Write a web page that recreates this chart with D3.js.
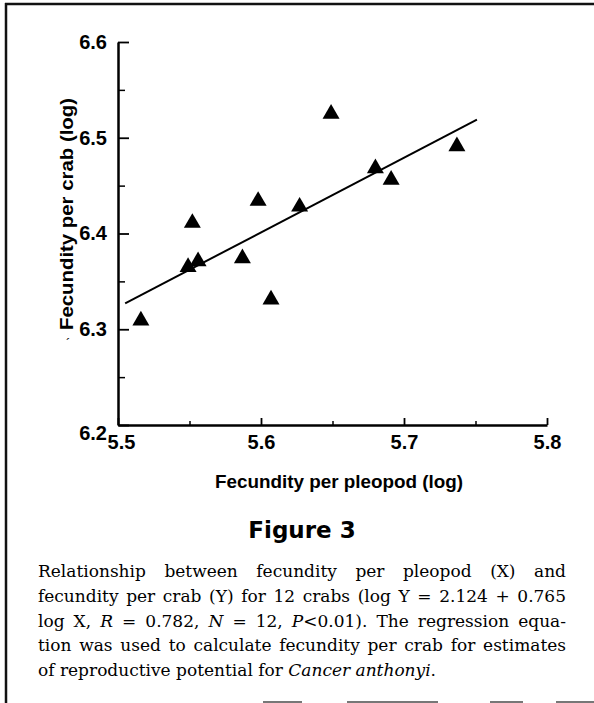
<!DOCTYPE html>
<html>
  <head>
	<meta charset="utf-8">
	<title>Figure 3 - fecundity per crab vs per pleopod</title>
	<style>
	  body { margin: 0; background: #fff; }
	  svg { display: block; }
	  .axis-title { font-family: "Liberation Sans", Arial, sans-serif; font-weight: bold; font-size: 18px; }
	  .caption { font-family: "DejaVu Serif", serif; font-size: 17px; }
	</style>
  </head>
  <body>
	<div id="chart"></div>
	<script src="https://cdn.jsdelivr.net/npm/d3@7"></script>
	<script>
	  // values (log scale numbers)
	  var crabX = [5.516, 5.552, 5.549, 5.556, 5.587, 5.607, 5.598, 5.627, 5.649, 5.680, 5.691, 5.737];
	  var crabY = [6.309, 6.411, 6.365, 6.371, 6.374, 6.331, 6.434, 6.428, 6.525, 6.468, 6.456, 6.491];

	  // ends of the drawn regression line
	  var fitX = [5.505, 5.751];
	  var fitY = [6.327, 6.519];

	  var xTicks = [5.5, 5.6, 5.7, 5.8];
	  var xMinor = [5.55, 5.65, 5.75];
	  var yTicks = [6.2, 6.3, 6.4, 6.5, 6.6];
	  var yMinor = [6.25, 6.35, 6.45, 6.55];

	  var xTitle = 'Fecundity per pleopod (log)';
	  var yTitle = 'Fecundity per crab (log)';
	  var figTitle = 'Figure 3';
	  var captionLines = [
		[['Relationship between fecundity per pleopod (X) and']],
		[['fecundity per crab (Y) for 12 crabs (log Y = 2.124 + 0.765']],
		[['log X, '], ['R', 1], [' = 0.782, '], ['N', 1], [' = 12, '], ['P', 1], ['<0.01). The regression equa-']],
		[['tion was used to calculate fecundity per crab for estimates']],
		[['of reproductive potential for '], ['Cancer anthonyi', 1], ['.']]
	  ];

	  var width = 594, height = 703;

	  var svg = d3.select('#chart').append('svg')
		.attr('width', width)
		.attr('height', height);

	  svg.append('rect').attr('width', width).attr('height', height).attr('fill', '#fff');

	  // scanned frame
	  svg.append('line').attr('x1', 5).attr('y1', 4).attr('x2', 594).attr('y2', 4)
		.attr('stroke', '#111').attr('stroke-width', 2.5);
	  svg.append('line').attr('x1', 6).attr('y1', 3).attr('x2', 6).attr('y2', 703)
		.attr('stroke', '#111').attr('stroke-width', 2.5);
	  var bits = [[263, 302], [347, 438], [490, 523], [556, 594]];
	  bits.forEach(function(b) {
		svg.append('line').attr('x1', b[0]).attr('x2', b[1]).attr('y1', 702).attr('y2', 702)
		  .attr('stroke', '#777').attr('stroke-width', 2);
	  });

	  var x = d3.scaleLinear().domain([5.5, 5.8]).range([118, 547]);
	  var y = d3.scaleLinear().domain([6.2, 6.6]).range([425, 42]);

	  // minor ticks first, axes on top
	  svg.append('g')
		.attr('transform', 'translate(0,425)')
		.call(d3.axisBottom(x).tickValues(xMinor).tickSize(-4).tickFormat(''))
		.call(function(g) { g.select('.domain').remove(); })
		.selectAll('line').attr('stroke-width', 1.5);
	  svg.append('g')
		.attr('transform', 'translate(118,0)')
		.call(d3.axisLeft(y).tickValues(yMinor).tickSize(-7).tickFormat(''))
		.call(function(g) { g.select('.domain').remove(); })
		.selectAll('line').attr('stroke-width', 1.5);

	  function styleTicks(g) {
		g.attr('font-family', '"Liberation Sans", Arial, sans-serif')
		  .attr('font-size', 20)
		  .attr('font-weight', 'bold');
		g.select('.domain').attr('stroke-width', 2.5);
		g.selectAll('.tick line').attr('stroke-width', 1.8);
		g.selectAll('.tick text').attr('fill', '#000');
	  }

	  var xAxis = svg.append('g')
		.attr('transform', 'translate(0,425)')
		.call(d3.axisBottom(x).tickValues(xTicks).tickSizeInner(-7).tickSizeOuter(0)
		  .tickPadding(10).tickFormat(d3.format('.1f')))
		.call(styleTicks);
	  xAxis.selectAll('.tick text').filter(function(d) { return d === 5.5; }).attr('dx', 3);

	  var yAxis = svg.append('g')
		.attr('transform', 'translate(118,0)')
		.call(d3.axisLeft(y).tickValues(yTicks).tickSizeInner(-11).tickSizeOuter(0)
		  .tickPadding(11).tickFormat(d3.format('.1f')))
		.call(styleTicks);
	  yAxis.selectAll('.tick text').filter(function(d) { return d === 6.2; }).attr('dy', '0.7em');

	  // titles
	  svg.append('text').attr('class', 'axis-title')
		.attr('x', 339).attr('y', 488).attr('text-anchor', 'middle')
		.attr('textLength', 248).attr('lengthAdjust', 'spacingAndGlyphs')
		.text(xTitle);
	  svg.append('text').attr('class', 'axis-title')
		.attr('transform', 'translate(73,214) rotate(-90)')
		.attr('text-anchor', 'middle')
		.attr('textLength', 232).attr('lengthAdjust', 'spacingAndGlyphs')
		.text(yTitle);
	  svg.append('text').attr('x', 66).attr('y', 348)
		.attr('font-family', 'Liberation Sans, sans-serif').attr('font-size', 13)
		.text('\u00b4');

	  // regression line
	  svg.append('path')
		.datum(d3.zip(fitX, fitY))
		.attr('fill', 'none').attr('stroke', '#000').attr('stroke-width', 2)
		.attr('d', d3.line().x(function(d) { return x(d[0]); }).y(function(d) { return y(d[1]); }));

	  // triangles
	  svg.append('g').selectAll('path')
		.data(d3.zip(crabX, crabY))
		.enter().append('path')
		.attr('transform', function(d) { return 'translate(' + x(d[0]) + ',' + y(d[1]) + ')'; })
		.attr('d', d3.symbol().type(d3.symbolTriangle).size(125))
		.attr('fill', '#000');

	  // caption
	  svg.append('text')
		.attr('x', 302).attr('y', 538).attr('text-anchor', 'middle')
		.attr('font-family', '"DejaVu Sans", sans-serif').attr('font-weight', 'bold').attr('font-size', 23)
		.text(figTitle);

	  var capLeft = 38, capRight = 566;
	  captionLines.forEach(function(parts, i) {
		var t = svg.append('text').attr('class', 'caption')
		  .attr('x', capLeft).attr('y', 577 + i * 24.8)
		  .attr('xml:space', 'preserve');
		parts.forEach(function(p) {
		  t.append('tspan').attr('font-style', p[1] ? 'italic' : null).text(p[0]);
		});
		if (i < captionLines.length - 1) {
		  var full = parts.map(function(p) { return p[0]; }).join('');
		  var gaps = full.split(' ').length - 1;
		  var w = t.node().getComputedTextLength();
		  t.attr('word-spacing', (capRight - capLeft - w) / gaps);
		}
	  });
	</script>
  </body>
</html>
